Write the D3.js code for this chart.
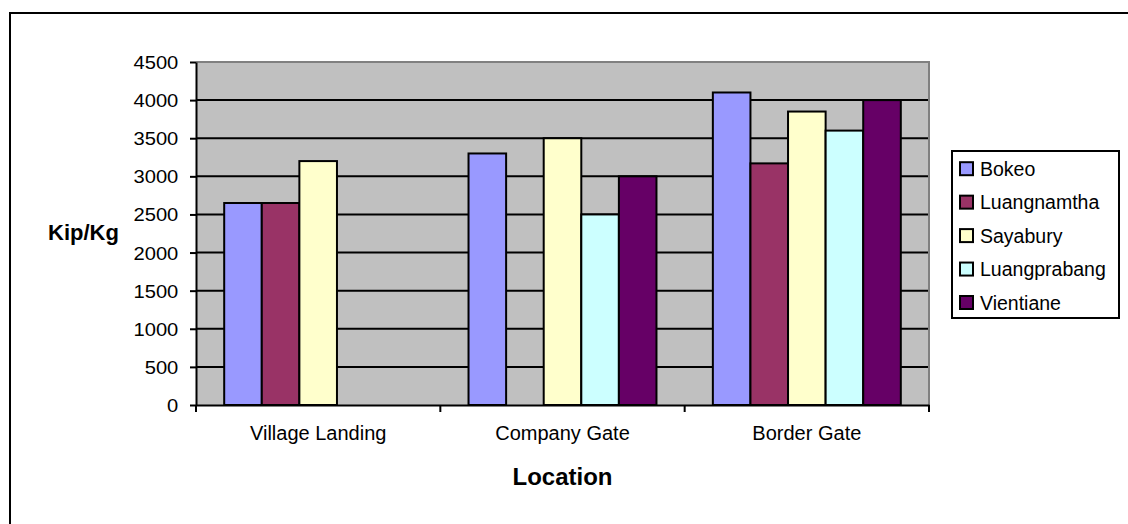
<!DOCTYPE html>
<html>
<head>
<meta charset="utf-8">
<script src="https://cdn.jsdelivr.net/npm/d3@7"></script>
<style>
  html, body { margin: 0; padding: 0; background: #fff; }
  svg { display: block; font-family: Arial, "Liberation Sans", sans-serif; }
</style>
</head>
<body>
<svg id="chart" width="1128" height="524"></svg>
<script>
// Farm-gate prices by selling location and province
const locations = ["Village Landing", "Company Gate", "Border Gate"];
const provinces = ["Bokeo", "Luangnamtha", "Sayabury", "Luangprabang", "Vientiane"];
const colors = ["#9999FF", "#993366", "#FFFFCC", "#CCFFFF", "#660066"];
const bokeo        = [2650, 3300, 4100];
const luangnamtha  = [2650, null, 3170];
const sayabury     = [3200, 3500, 3850];
const luangprabang = [null, 2500, 3600];
const vientiane    = [null, 3000, 4000];
const yTicks = [0, 500, 1000, 1500, 2000, 2500, 3000, 3500, 4000, 4500];

const seriesValues = [bokeo, luangnamtha, sayabury, luangprabang, vientiane];

const svg = d3.select("#chart");

// Outer frame (continues past the right and bottom edges)
svg.append("path")
  .attr("d", "M10,540 V13 H1140")
  .attr("fill", "none").attr("stroke", "#000").attr("stroke-width", 2);

const plot = { left: 196, top: 62, right: 929, bottom: 405 };

const x0 = d3.scaleBand().domain(locations).range([plot.left, plot.right]).paddingInner(0).paddingOuter(0);
const bw = x0.bandwidth() / 6.5;
const x1 = d3.scaleBand().domain(provinces).range([0.75 * bw, x0.bandwidth() - 0.75 * bw]).padding(0);
const y = d3.scaleLinear().domain([0, 4500]).range([plot.bottom, plot.top]);

// Plot background
svg.append("rect")
  .attr("x", plot.left).attr("y", plot.top)
  .attr("width", plot.right - plot.left).attr("height", plot.bottom - plot.top)
  .attr("fill", "#C0C0C0");

// Horizontal gridlines
svg.append("g").selectAll("line")
  .data(yTicks.filter(v => v > 0 && v < 4500))
  .join("line")
  .attr("x1", plot.left).attr("x2", plot.right)
  .attr("y1", d => y(d)).attr("y2", d => y(d))
  .attr("stroke", "#000").attr("stroke-width", 2);

// Top and right border of plot area
svg.append("path")
  .attr("d", `M${plot.left},${plot.top} H${plot.right} V${plot.bottom}`)
  .attr("fill", "none").attr("stroke", "#808080").attr("stroke-width", 2);

// Bars
const rows = [];
locations.forEach((loc, i) => {
  provinces.forEach((p, j) => {
    const v = seriesValues[j][i];
    if (v != null) rows.push({ loc, p, v, color: colors[j] });
  });
});
svg.append("g").selectAll("rect")
  .data(rows)
  .join("rect")
  .attr("x", d => x0(d.loc) + x1(d.p))
  .attr("y", d => y(d.v))
  .attr("width", x1.bandwidth())
  .attr("height", d => y(0) - y(d.v))
  .attr("fill", d => d.color)
  .attr("stroke", "#000").attr("stroke-width", 2);

// Y axis
const yAxis = svg.append("g")
  .attr("transform", `translate(${plot.left},0)`)
  .call(d3.axisLeft(y).tickValues(yTicks).tickSize(6).tickSizeOuter(0).tickFormat(d3.format("d")));
yAxis.select(".domain").attr("stroke", "#000").attr("stroke-width", 2);
yAxis.selectAll(".tick line").attr("stroke", "#000").attr("stroke-width", 2);
yAxis.selectAll(".tick text")
  .attr("font-size", 18).attr("fill", "#000")
  .attr("font-family", "Arial, 'Liberation Sans', sans-serif")
  .attr("x", -15.8).attr("dy", "0.36em")
  .attr("transform", "scale(1.12,1)");

// X axis
const xAxis = svg.append("g")
  .attr("transform", `translate(0,${plot.bottom})`)
  .call(d3.axisBottom(x0).tickSize(0).tickSizeOuter(0));
xAxis.select(".domain").attr("stroke", "#000").attr("stroke-width", 2);
xAxis.selectAll(".tick text")
  .attr("font-size", 20).attr("fill", "#000")
  .attr("font-family", "Arial, 'Liberation Sans', sans-serif")
  .attr("y", 35).attr("dy", 0);
// Category separators below the axis
svg.append("g").selectAll("line")
  .data(locations.map(l => x0(l)).concat([plot.right]))
  .join("line")
  .attr("x1", d => d).attr("x2", d => d)
  .attr("y1", plot.bottom).attr("y2", plot.bottom + 7)
  .attr("stroke", "#000").attr("stroke-width", 2);

// Axis titles
svg.append("text")
  .attr("x", 48).attr("y", 240)
  .attr("font-size", 22).attr("font-weight", "bold").attr("fill", "#000")
  .text("Kip/Kg");
svg.append("text")
  .attr("x", (plot.left + plot.right) / 2).attr("y", 485)
  .attr("text-anchor", "middle")
  .attr("font-size", 24).attr("font-weight", "bold").attr("fill", "#000")
  .text("Location");

// Legend
const legend = svg.append("g");
legend.append("rect")
  .attr("x", 952).attr("y", 151).attr("width", 167).attr("height", 167)
  .attr("fill", "#fff").attr("stroke", "#000").attr("stroke-width", 2);
const items = legend.selectAll("g.item")
  .data(provinces)
  .join("g").attr("class", "item")
  .attr("transform", (d, i) => `translate(0,${168.7 + i * 33.45})`);
items.append("rect")
  .attr("x", 960).attr("y", -6.5).attr("width", 13).attr("height", 13)
  .attr("fill", (d, i) => colors[i]).attr("stroke", "#000").attr("stroke-width", 2);
items.append("text")
  .attr("x", 980).attr("y", 7)
  .attr("font-size", 19.5).attr("fill", "#000")
  .text(d => d);
</script>
</body>
</html>
